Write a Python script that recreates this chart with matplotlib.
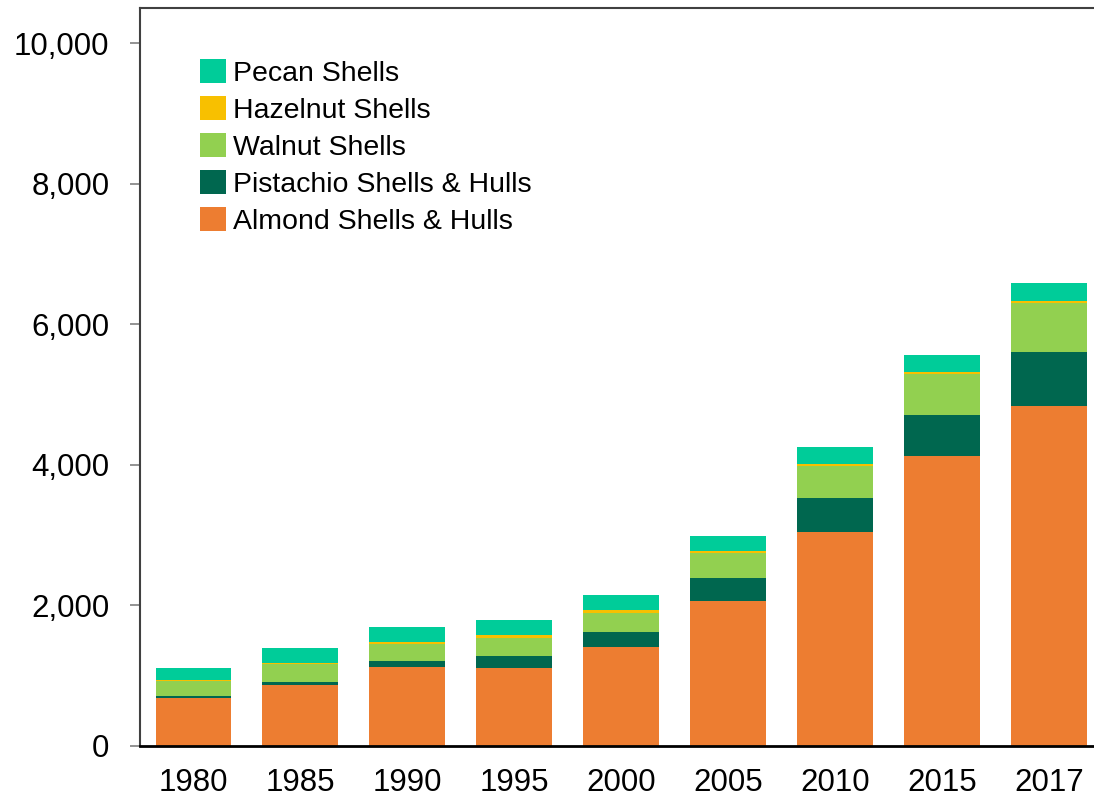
import numpy as np
import matplotlib
matplotlib.use("Agg")
import matplotlib.pyplot as plt

years = ['1980', '1985', '1990', '1995', '2000', '2005', '2010', '2015', '2017']
almond = [676, 862, 1118, 1104, 1404, 2064, 3044, 4118, 4827]
pistachio = [30, 42, 86, 176, 218, 314, 475, 585, 775]
walnut = [215, 253, 247, 256, 271, 357, 457, 585, 699]
hazelnut = [15, 14, 20, 43, 34, 34, 38, 34, 34]
pecan = [167, 218, 218, 210, 219, 214, 239, 233, 252]

series = [
    ('Almond Shells & Hulls', almond, '#ED7D31'),
    ('Pistachio Shells & Hulls', pistachio, '#00674F'),
    ('Walnut Shells', walnut, '#92D050'),
    ('Hazelnut Shells', hazelnut, '#F8C000'),
    ('Pecan Shells', pecan, '#00CC99'),
]

plt.rcParams['font.family'] = ['Liberation Sans', 'DejaVu Sans']

fig = plt.figure(figsize=(10.94, 8.01), dpi=100)
ax = fig.add_axes([140 / 1094, 55.5 / 801, (1102.5 - 140) / 1094, (745.5 - 8) / 801])

x = np.arange(len(years))
bottom = np.zeros(len(years))
for name, vals, color in series:
    ax.bar(x, vals, width=0.71, bottom=bottom, color=color, label=name,
           linewidth=0)
    bottom += np.array(vals)

ax.set_xlim(-0.5, len(years) - 0.5)
ax.set_ylim(0, 10500)
ax.set_yticks(range(0, 10001, 2000))
ax.set_yticklabels([f'{v:,}' for v in range(0, 10001, 2000)])
ax.set_xticks(x)
ax.set_xticklabels(years)

ax.tick_params(axis='y', length=7, width=1.2, color='#808080', labelsize=22.5, pad=15)
ax.tick_params(axis='x', length=0, labelsize=22.5, pad=16)

for side in ['left', 'top', 'right']:
    ax.spines[side].set_color('#404040')
    ax.spines[side].set_linewidth(1.5)
ax.spines['bottom'].set_color('black')
ax.spines['bottom'].set_linewidth(2)

handles, labels = ax.get_legend_handles_labels()
ax.legend(handles[::-1], labels[::-1], loc='upper left', bbox_to_anchor=(0.05, 0.946),
          frameon=False, fontsize=20.5, handlelength=0.92, handleheight=0.92,
          handletextpad=0.25, labelspacing=0.32, borderaxespad=0)

fig.savefig('out.png', dpi=100)
